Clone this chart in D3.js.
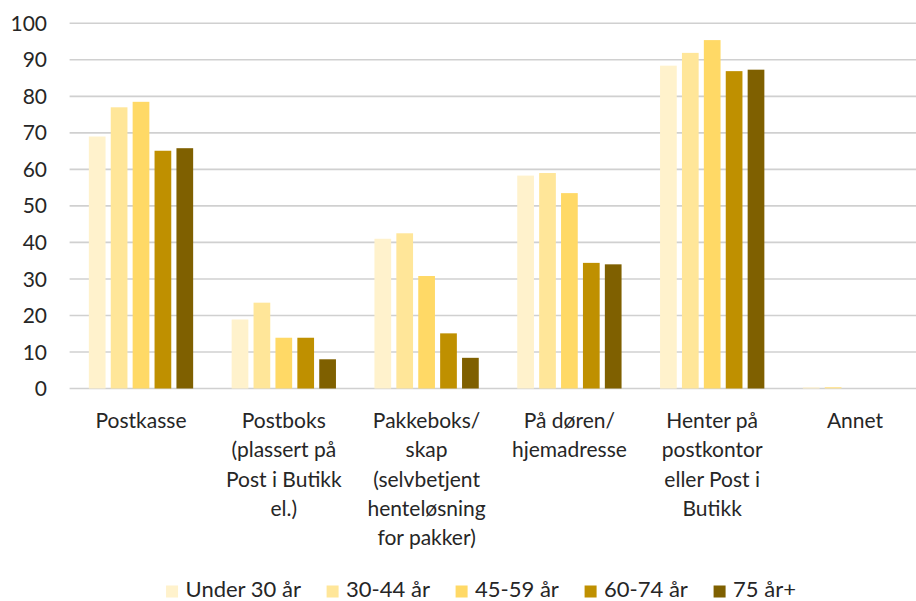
<!DOCTYPE html>
<html>
<head>
<meta charset="utf-8">
<script src="https://cdn.jsdelivr.net/npm/d3@7"></script>
<style>
  body { margin: 0; background: #fff; }
  text { font-family: Lato, "Liberation Sans", sans-serif; fill: #262626; }
</style>
</head>
<body>
<svg width="916" height="601"></svg>
<script>
// data
var categories = ["Postkasse", "Postboks (plassert på Post i Butikk el.)", "Pakkeboks/ skap (selvbetjent henteløsning for pakker)", "På døren/ hjemadresse", "Henter på postkontor eller Post i Butikk", "Annet"];
var categoryLines = [
  ["Postkasse"],
  ["Postboks", "(plassert på", "Post i Butikk", "el.)"],
  ["Pakkeboks/", "skap", "(selvbetjent", "henteløsning", "for pakker)"],
  ["På døren/", "hjemadresse"],
  ["Henter på", "postkontor", "eller Post i", "Butikk"],
  ["Annet"]
];
var seriesNames = ["Under 30 år", "30-44 år", "45-59 år", "60-74 år", "75 år+"];
var under30 = [69.0, 18.9, 41.0, 58.3, 88.4, 0.3];
var age3044 = [77.0, 23.5, 42.5, 59.0, 91.9, 0.4];
var age4559 = [78.5, 13.9, 30.8, 53.5, 95.4, 0];
var age6074 = [65.1, 13.9, 15.1, 34.4, 86.9, 0];
var age75 = [65.8, 8.0, 8.4, 34.0, 87.3, 0];
var yTicks = [0, 10, 20, 30, 40, 50, 60, 70, 80, 90, 100];
var colors = ["#FFF2CC", "#FFE699", "#FFD966", "#BF9000", "#7F6000"];

var series = [under30, age3044, age4559, age6074, age75];

var svg = d3.select("svg"),
    width = +svg.attr("width"),
    height = +svg.attr("height");

// plot area runs a little past the right edge of the picture
var margin = {left: 69.6, right: -10.4, top: 23.3, bottom: 212.5};
var plotW = width - margin.left - margin.right,
    plotH = height - margin.top - margin.bottom;

var x0 = d3.scaleBand().domain(d3.range(categories.length)).range([margin.left, margin.left + plotW]);
var groupW = x0.bandwidth() * 0.767;
var x1 = d3.scaleBand().domain(d3.range(seriesNames.length)).range([0, groupW]).paddingInner(0.237).paddingOuter(0.119);
var y = d3.scaleLinear().domain([0, 100]).range([margin.top + plotH, margin.top]);

// gridlines
svg.append("g")
    .selectAll("line")
    .data(yTicks)
    .enter().append("line")
    .attr("x1", margin.left)
    .attr("x2", width)
    .attr("y1", function(d) { return y(d); })
    .attr("y2", function(d) { return y(d); })
    .attr("stroke", "#d0d0d0")
    .attr("stroke-width", 1.6);

// y labels
svg.append("g")
    .selectAll("text")
    .data(yTicks)
    .enter().append("text")
    .attr("x", 47)
    .attr("y", function(d) { return y(d); })
    .attr("dy", "0.36em")
    .attr("text-anchor", "end")
    .style("font-size", "21px")
    .text(function(d) { return d; });

// bars
var groups = svg.append("g")
    .selectAll("g")
    .data(series)
    .enter().append("g")
    .attr("fill", function(d, i) { return colors[i]; });

groups.each(function(vals, si) {
    d3.select(this).selectAll("rect")
        .data(vals)
        .enter().append("rect")
        .attr("x", function(d, ci) { return x0(ci) + (x0.bandwidth() - groupW) / 2 + x1(si); })
        .attr("width", x1.bandwidth())
        .attr("y", function(d) { return y(d); })
        .attr("height", function(d) { return y(0) - y(d); });
});

// category labels
var cat = svg.append("g")
    .selectAll("text")
    .data(categoryLines)
    .enter().append("text")
    .attr("text-anchor", "middle")
    .style("font-size", "21px");

cat.each(function(lines, ci) {
    d3.select(this).selectAll("tspan")
        .data(lines)
        .enter().append("tspan")
        .attr("x", x0(ci) + x0.bandwidth() / 2)
        .attr("y", function(d, li) { return 428 + li * 29.3; })
        .text(function(d) { return d; });
});

// legend
var legend = svg.append("g");
var items = legend.selectAll("g")
    .data(seriesNames)
    .enter().append("g");
items.append("rect")
    .attr("width", 12)
    .attr("height", 12)
    .attr("y", 585.5)
    .attr("fill", function(d, i) { return colors[i]; });
items.append("text")
    .attr("x", 19.5)
    .attr("y", 596.5)
    .style("font-size", "22px")
    .text(function(d) { return d; });

var pos = 0, offsets = [];
items.each(function() {
    offsets.push(pos);
    pos += 19.5 + d3.select(this).select("text").node().getComputedTextLength() + 25.7;
});
var totalW = pos - 25.7;
var startX = 481 - totalW / 2;
items.attr("transform", function(d, i) { return "translate(" + (startX + offsets[i]) + ",0)"; });
</script>
</body>
</html>
